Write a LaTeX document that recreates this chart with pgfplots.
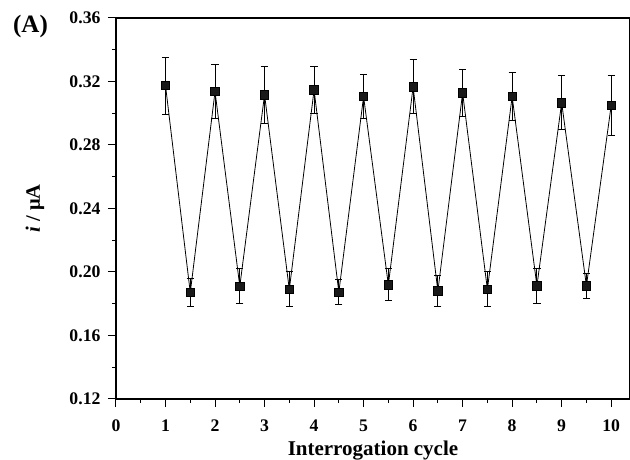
\documentclass[border=0pt]{standalone}
\usepackage{pgfplots}
\pgfplotsset{compat=1.18}
\usepackage{fontspec}
\setmainfont{Liberation Serif}
\begin{document}
\begin{tikzpicture}
\begin{axis}[
  scale only axis,
  width=514pt, height=381pt,
  xmin=0, xmax=10.38, ymin=0.12, ymax=0.36,
  xtick={0,1,...,10},
  ytick={0.12,0.16,0.20,0.24,0.28,0.32,0.36},
  minor x tick num=1, minor y tick num=1,
  tick align=outside,
  xtick pos=bottom, ytick pos=left,
  major tick length=8pt, minor tick length=4pt,
  tick style={black, line width=1pt},
  axis line style={line width=1.1pt},
  /pgf/number format/assume math mode=true,
  ticklabel style={font=\fontsize{17.7}{20}\selectfont\bfseries},
  yticklabel style={xshift=-4pt, /pgf/number format/.cd, fixed, fixed zerofill, precision=2},
  xticklabel style={yshift=-9pt, /pgf/number format/.cd, fixed, precision=0},
  xlabel={Interrogation cycle},
  ylabel={\textit{i} / μA},
  xlabel style={font=\fontsize{21}{24}\selectfont\bfseries, at={(axis description cs:0.5,0)}, anchor=base, yshift=-57pt},
  ylabel style={font=\fontsize{20.5}{24}\selectfont\bfseries, at={(axis description cs:-0.1576,0.5)}, anchor=center},
  clip=false,
]
\addplot[black, line width=0.8pt, mark=square*, mark size=4.2pt,
  mark options={solid, fill=black!90},
  error bars/.cd, y dir=both, y explicit,
  error bar style={line width=1pt, black},
  error mark options={rotate=90, mark size=3.6pt, line width=1pt}]
  table[x=x, y=y, y error=e] {
x y e
1 0.3174 0.018
1.5 0.1870 0.009
2 0.3136 0.017
2.5 0.1910 0.011
3 0.3116 0.018
3.5 0.1890 0.011
4 0.3147 0.015
4.5 0.1873 0.008
5 0.3105 0.014
5.5 0.1919 0.010
6 0.3166 0.017
6.5 0.1880 0.010
7 0.3128 0.015
7.5 0.1891 0.011
8 0.3105 0.015
8.5 0.1913 0.011
9 0.3066 0.017
9.5 0.1913 0.008
10 0.3049 0.019
};
\node[font=\fontsize{25}{28}\selectfont\bfseries, anchor=center] at (axis description cs:-0.1663,0.979) {(A)};
\coordinate (bl) at (axis description cs:0,0);
\coordinate (tr) at (axis description cs:1,1);
\end{axis}
\pgfresetboundingbox
\useasboundingbox ([shift={(-116pt,-61pt)}]bl) rectangle ([shift={(0pt,18pt)}]tr);
\end{tikzpicture}
\end{document}
